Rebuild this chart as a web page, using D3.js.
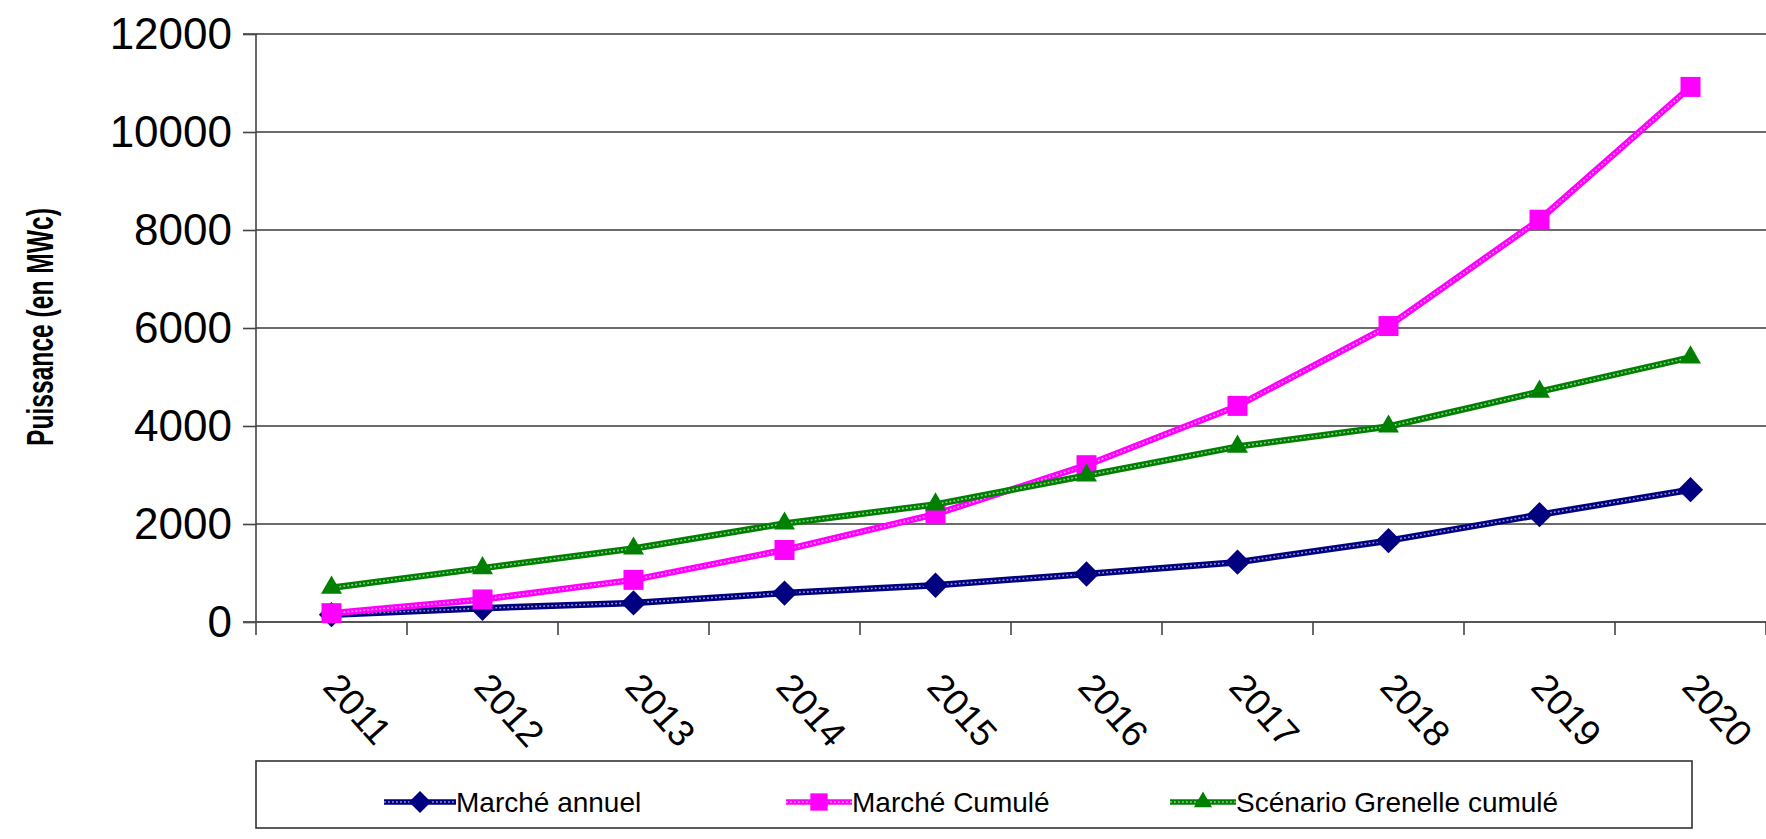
<!DOCTYPE html>
<html><head><meta charset="utf-8">
<script src="https://cdn.jsdelivr.net/npm/d3@7"></script>
<style>
body{margin:0;background:#fff;overflow:hidden}
svg{display:block}
text{font-family:"Liberation Sans",Arial,Helvetica,sans-serif;fill:#000}
</style>
</head><body>
<svg id="c" width="1766" height="839"></svg>
<script>
const years = ["2011","2012","2013","2014","2015","2016","2017","2018","2019","2020"];
const marcheAnnuel = [150, 280, 390, 590, 750, 980, 1220, 1660, 2190, 2700];
const marcheCumule = [180, 460, 860, 1470, 2200, 3200, 4410, 6040, 8210, 10920];
const grenelle = [700, 1100, 1500, 2010, 2400, 2990, 3580, 3990, 4700, 5400];
const yTicks = [0, 2000, 4000, 6000, 8000, 10000, 12000];
const seriesNames = ["Marché annuel", "Marché Cumulé", "Scénario Grenelle cumulé"];
const seriesColors = ["#000080", "#FF00FF", "#008000"];
const yTitle = "Puissance (en MWc)";

const svg = d3.select("#c");
const pLeft = 256, pRight = 1766, pTop = 34, pBottom = 622;

const x = d3.scaleBand().domain(years).range([pLeft, pLeft + 151 * years.length]);
const y = d3.scaleLinear().domain([0, 12000]).range([pBottom, pTop]);

// gridlines
svg.append("g").selectAll("line").data(yTicks.filter(d => d > 0)).join("line")
  .attr("x1", pLeft).attr("x2", pRight)
  .attr("y1", d => y(d)).attr("y2", d => y(d))
  .attr("stroke", "#3a3a3a").attr("stroke-width", 1.6);

// y axis
const ya = svg.append("g").attr("transform", `translate(${pLeft},0)`)
  .call(d3.axisLeft(y).tickValues(yTicks).tickSize(13).tickPadding(11).tickFormat(d3.format("d")));
ya.select(".domain").attr("stroke", "#444").attr("stroke-width", 1.6).attr("d", `M-13,${pTop}H0V${pBottom}`);
ya.selectAll(".tick line").attr("stroke", "#444").attr("stroke-width", 1.6);
ya.selectAll(".tick text").attr("font-size", 44).attr("font-family", "Liberation Sans, Arial, sans-serif").attr("fill", "#000");

// x axis
const xa = svg.append("g").attr("transform", `translate(0,${pBottom})`);
xa.append("line").attr("x1", pLeft - 13).attr("x2", pRight).attr("y1", 0).attr("y2", 0)
  .attr("stroke", "#555").attr("stroke-width", 2);
xa.selectAll("line.t").data(years.map((d, i) => i).concat([years.length])).join("line").attr("class", "t")
  .attr("x1", i => pLeft + x.step() * i).attr("x2", i => pLeft + x.step() * i)
  .attr("y1", 0).attr("y2", 13).attr("stroke", "#444").attr("stroke-width", 1.6);
xa.selectAll("text").data(years).join("text")
  .attr("transform", d => `translate(${x(d) + x.bandwidth() / 2 - 10},${66}) rotate(48)`)
  .attr("font-size", 37).attr("text-anchor", "start")
  .text(d => d);

// y title
svg.append("text").attr("transform", `translate(53,327) rotate(-90)`)
  .attr("text-anchor", "middle").attr("font-size", 36).attr("font-weight", "bold")
  .attr("textLength", 238).attr("lengthAdjust", "spacingAndGlyphs")
  .text(yTitle);

// series
const allSeries = [marcheAnnuel, marcheCumule, grenelle];
const line = d3.line().x((d, i) => x(years[i]) + x.bandwidth() / 2).y(d => y(d));
const markerShapes = [
  {type: d3.symbolSquare, size: 320, rot: 45},
  {type: d3.symbolSquare, size: 400, rot: 0},
  {type: d3.symbolTriangle, size: 190, rot: 0}
];

allSeries.forEach((vals, si) => {
  const g = svg.append("g");
  g.append("path").attr("d", line(vals)).attr("fill", "none")
    .attr("stroke", seriesColors[si]).attr("stroke-width", 6.5).attr("stroke-linejoin", "round");
  g.append("path").attr("d", line(vals)).attr("fill", "none")
    .attr("stroke", "#fff").attr("stroke-opacity", 0.6).attr("stroke-width", 1.6)
    .attr("stroke-dasharray", "1.8,2.2");
  const ms = markerShapes[si];
  g.selectAll("path.m").data(vals).join("path").attr("class", "m")
    .attr("transform", (d, i) => `translate(${x(years[i]) + x.bandwidth() / 2},${y(d)}) rotate(${ms.rot})`)
    .attr("d", d3.symbol().type(ms.type).size(ms.size))
    .attr("fill", seriesColors[si]);
});

// legend
const lg = svg.append("g");
lg.append("rect").attr("x", pLeft).attr("y", 761).attr("width", 1692 - pLeft).attr("height", 67)
  .attr("fill", "#fff").attr("stroke", "#333").attr("stroke-width", 1.6);
const legX = [384, 786, 1170];
const legTextX = [456, 852, 1236];
seriesNames.forEach((name, si) => {
  const cx = legX[si], cy = 802;
  const tx = legTextX[si];
  lg.append("line").attr("x1", cx).attr("x2", tx).attr("y1", cy).attr("y2", cy)
    .attr("stroke", seriesColors[si]).attr("stroke-width", 5.5);
  lg.append("line").attr("x1", cx).attr("x2", tx).attr("y1", cy).attr("y2", cy)
    .attr("stroke", "#fff").attr("stroke-opacity", 0.6).attr("stroke-width", 1.5).attr("stroke-dasharray", "1.8,2.2");
  const ms = markerShapes[si];
  lg.append("path").attr("transform", `translate(${(cx + tx) / 2},${cy}) rotate(${ms.rot})`)
    .attr("d", d3.symbol().type(ms.type).size(ms.size * 0.75))
    .attr("fill", seriesColors[si]);
  lg.append("text").attr("x", tx).attr("y", cy).attr("dy", "0.36em")
    .attr("font-size", 28).text(name);
});
</script>
</body></html>
